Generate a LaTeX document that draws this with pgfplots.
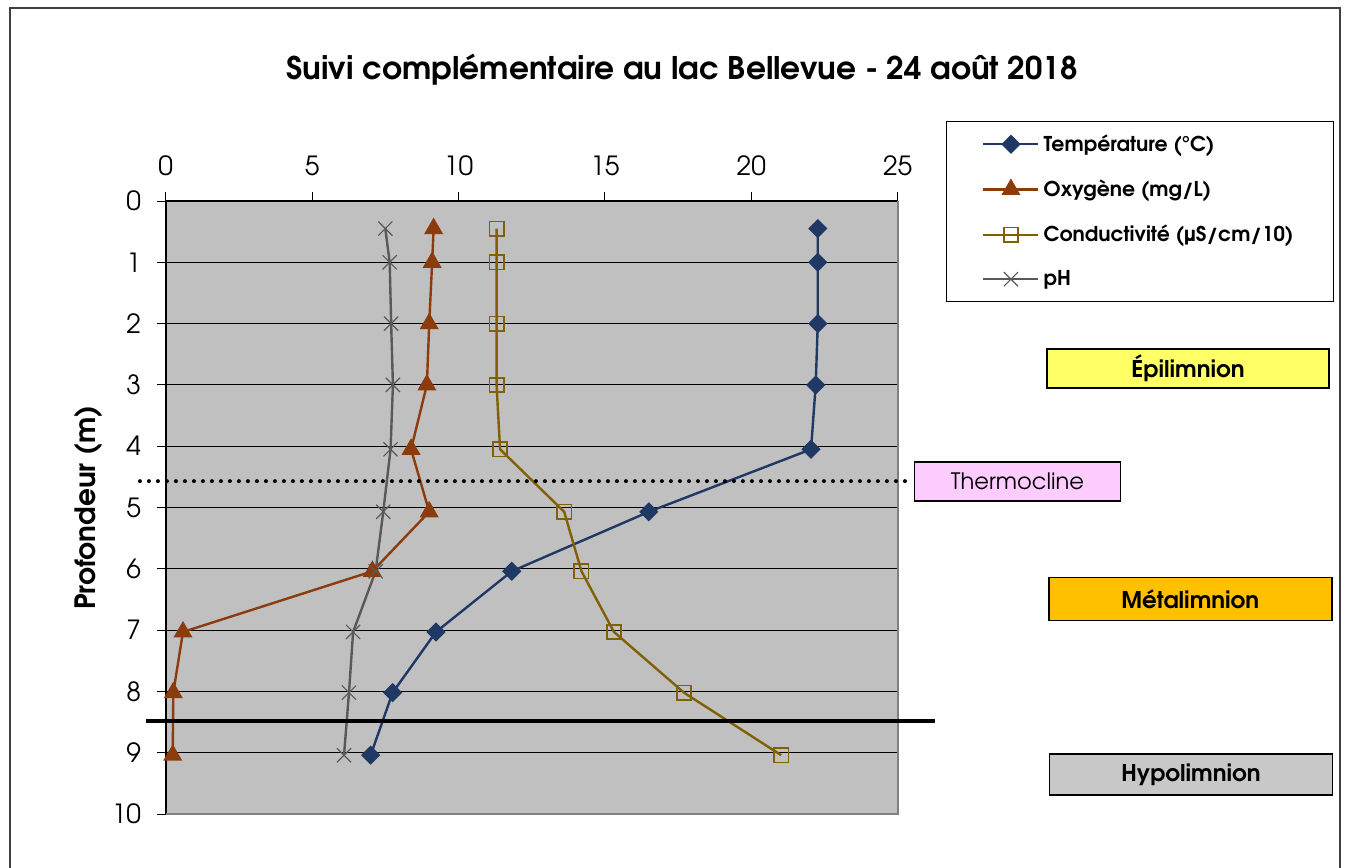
\documentclass[border=0pt]{standalone}
\usepackage{pgfplots}
\pgfplotsset{compat=1.18}
\usepackage{fontspec}
\setmainfont{TeX Gyre Adventor}
\definecolor{tempc}{RGB}{31,56,100}
\definecolor{oxyc}{RGB}{140,60,12}
\definecolor{condc}{RGB}{128,96,0}
\definecolor{phc}{RGB}{89,89,89}
\definecolor{plotbg}{RGB}{192,192,192}
\definecolor{epic}{RGB}{255,255,102}
\definecolor{thermc}{RGB}{255,204,255}
\definecolor{metac}{RGB}{255,192,0}
\definecolor{hypoc}{RGB}{200,200,200}
\definecolor{framec}{RGB}{128,128,128}
\begin{document}
\begin{tikzpicture}[x=0.5pt,y=-0.5pt]
\useasboundingbox (0,0) rectangle (1348,867);
\draw[black!75, line width=0.6pt] (10,8) rectangle (1340,900);
\node[font=\fontsize{15.6}{19}\selectfont\bfseries] at (682,70) {Suivi complémentaire au lac Bellevue - 24 août 2018};
\coordinate (axtl) at (165.7,201);
\begin{axis}[
 at={(axtl)}, anchor=north west,
 scale only axis, width=366pt, height=306.5pt,
 xmin=0, xmax=25, ymin=0, ymax=10, y dir=reverse,
 xtick={0,5,...,25}, ytick={0,1,...,10},
 xtick pos=right, xticklabel pos=right, ytick pos=left,
 tick align=outside, major tick length=4.5pt,
 tick style={black, line width=0.5pt},
 ymajorgrids, grid style={black, line width=0.5pt},
 axis line style={draw=none},
 axis background/.style={fill=plotbg},
 /pgf/number format/assume math mode=true,
 ticklabel style={font=\fontsize{13.2}{15}\selectfont},
 xticklabel style={yshift=4.5pt},
 yticklabel style={xshift=-4.3pt},
 ylabel={Profondeur (m)},
 ylabel style={at={(axis description cs:-0.106,0.5)}, anchor=center, font=\fontsize{14}{16}\selectfont\bfseries},
 clip=false,
 legend style={at={(axis description cs:1.0656,1.131)}, anchor=north west,
   draw=black, line width=0.5pt, inner xsep=18pt, inner ysep=4.6pt, row sep=8.8pt,
   font=\fontsize{10.2}{12}\selectfont\bfseries},
 legend cell align=left,
 legend image code/.code={\draw[mark repeat=2,mark phase=2] plot coordinates {(0pt,0pt) (13.75pt,0pt) (27.5pt,0pt)};},
]
\draw[black, line width=1pt] (axis cs:0,0) -- (axis cs:25,0);
\draw[black, line width=1pt] (axis cs:0,0) -- (axis cs:0,10);
\draw[framec, line width=1pt] (axis cs:25,0) -- (axis cs:25,10) -- (axis cs:0,10);

\addplot[tempc, line width=1.2pt, mark=square*, mark size=2.8pt, mark options={rotate=45, solid, fill=tempc}] coordinates {
 (22.27,0.45) (22.27,1) (22.27,2) (22.2,3) (22.04,4.05) (16.5,5.07) (11.82,6.04) (9.23,7.03) (7.75,8.02) (7.0,9.04)};
\addlegendentry{Température (°C)}
\addplot[oxyc, line width=1.2pt, mark=triangle*, mark size=4.3pt, mark options={solid, fill=oxyc}] coordinates {
 (9.15,0.45) (9.1,1) (9.0,2) (8.92,3) (8.38,4.05) (9.0,5.07) (7.06,6.04) (0.59,7.03) (0.26,8.02) (0.24,9.04)};
\addlegendentry{Oxygène (mg/L)}
\addplot[condc, line width=1.2pt, mark=square, mark size=3.6pt, mark options={solid, line width=0.8pt}] coordinates {
 (11.3,0.45) (11.3,1) (11.3,2) (11.3,3) (11.42,4.05) (13.61,5.07) (14.2,6.04) (15.31,7.03) (17.7,8.02) (21.02,9.04)};
\addlegendentry{Conductivité (µS/cm/10)}
\addplot[phc, line width=1.2pt, mark=x, mark size=5pt, mark options={solid, line width=0.6pt}] coordinates {
 (7.5,0.45) (7.65,1) (7.7,2) (7.76,3) (7.68,4.05) (7.43,5.07) (7.17,6.04) (6.4,7.03) (6.26,8.02) (6.09,9.04)};
\addlegendentry{pH}

\draw[black, line width=2pt, line cap=round, dash pattern=on 0pt off 4.5pt] (axis cs:-0.88,4.57) -- (axis cs:25.49,4.57);
\draw[black, line width=2pt] (axis cs:-0.67,8.48) -- (axis cs:26.27,8.48);
\end{axis}
\node[draw=black, line width=0.8pt, fill=epic, minimum width=141pt, minimum height=19.5pt, inner sep=0pt, font=\fontsize{11.5}{13}\selectfont\bfseries] at (1188,368.5) {\raisebox{-1.2pt}{Épilimnion}};
\node[draw=black, line width=0.8pt, fill=thermc, minimum width=103pt, minimum height=19.5pt, inner sep=0pt, font=\fontsize{11.3}{13}\selectfont] at (1017.5,481.3) {\raisebox{-1.2pt}{Thermocline}};
\node[draw=black, line width=0.8pt, fill=metac, minimum width=141.5pt, minimum height=21.5pt, inner sep=0pt, font=\fontsize{11.5}{13}\selectfont\bfseries] at (1190.3,599) {\raisebox{-0.6pt}{Métalimnion}};
\node[draw=black, line width=0.8pt, fill=hypoc, minimum width=141.5pt, minimum height=20.5pt, inner sep=0pt, font=\fontsize{11.5}{13}\selectfont\bfseries] at (1191,774.7) {\raisebox{-1.2pt}{Hypolimnion}};
\end{tikzpicture}
\end{document}
